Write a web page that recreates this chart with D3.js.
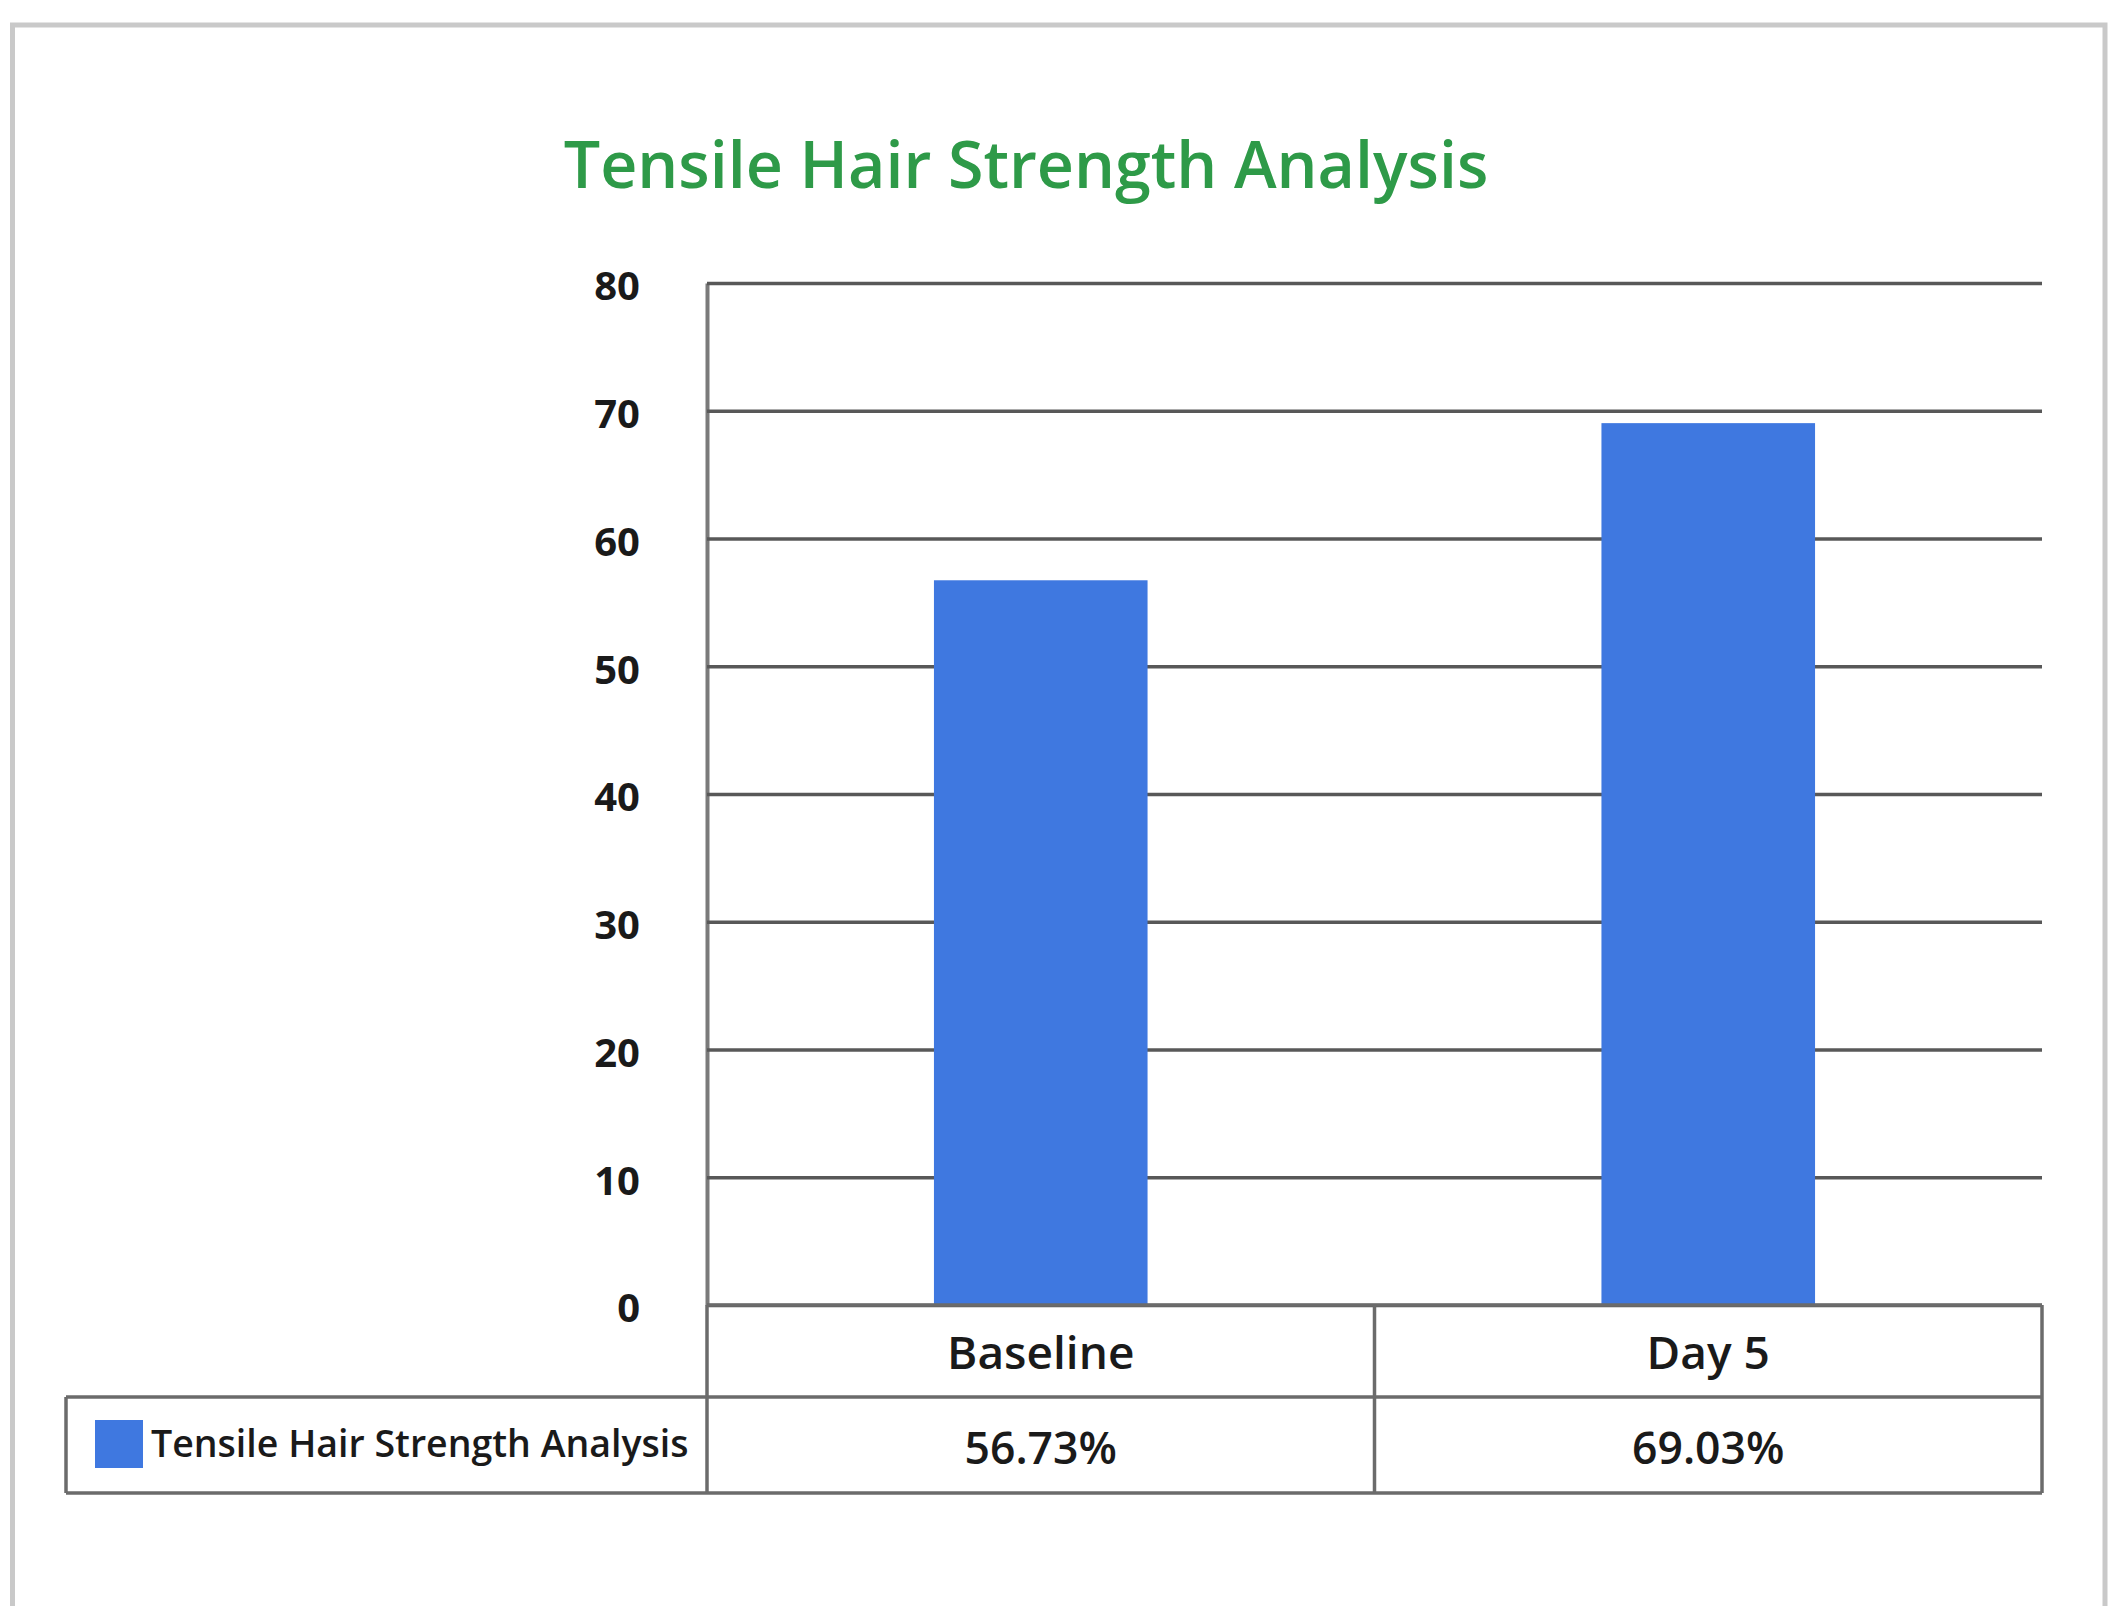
<!DOCTYPE html>
<html>
<head>
<meta charset="utf-8">
<title>Tensile Hair Strength Analysis</title>
<script src="https://cdn.jsdelivr.net/npm/d3@7"></script>
<style>
  html, body { margin: 0; padding: 0; background: #ffffff; }
  svg { display: block; }
  text { font-family: "Open Sans", "Noto Sans", sans-serif; }
</style>
</head>
<body>
<svg id="chart" width="2117" height="1606"></svg>
<script>
// Chart data
const chartTitle = "Tensile Hair Strength Analysis";
const seriesName = "Tensile Hair Strength Analysis";
const categories = ["Baseline", "Day 5"];
const values = [56.73, 69.03];
const yTicks = [0, 10, 20, 30, 40, 50, 60, 70, 80];

const W = 2117, H = 1606;
const plot = { left: 707, right: 2042, top: 283, bottom: 1305 };
const table = { left: 66, rowMid: 1397, bottom: 1493 };
const barColor = "#3f78e0";
const lineColor = "#6b6b6b";
const gridColor = "#585858";

const svg = d3.select("#chart");

// outer frame
svg.append("rect")
  .attr("x", 12.5).attr("y", 25)
  .attr("width", 2105 - 12.5).attr("height", H + 20)
  .attr("fill", "none")
  .attr("stroke", "#c9c9c9")
  .attr("stroke-width", 5);

// title
svg.append("text")
  .attr("x", 1026).attr("y", 188)
  .attr("text-anchor", "middle")
  .attr("font-size", 64.5)
  .attr("font-weight", 600)
  .attr("fill", "#2e9a48")
  .text(chartTitle);

// scales
const x = d3.scaleBand()
  .domain(categories)
  .range([plot.left, plot.right])
  .padding(0);

const y = d3.scaleLinear()
  .domain([0, 80])
  .range([plot.bottom, plot.top]);

// y axis with full-width gridlines
const yAxis = d3.axisLeft(y)
  .tickValues(yTicks)
  .tickFormat(d3.format("d"))
  .tickSizeInner(-(plot.right - plot.left))
  .tickSizeOuter(0)
  .tickPadding(67);

const gy = svg.append("g")
  .attr("transform", `translate(${plot.left},0)`)
  .call(yAxis);

gy.select(".domain")
  .attr("stroke", "#7a7a7a")
  .attr("stroke-width", 4);
gy.selectAll(".tick line")
  .attr("stroke", gridColor)
  .attr("stroke-width", 3.5);
gy.selectAll(".tick text")
  .attr("font-size", 40)
  .attr("font-weight", 700)
  .attr("fill", "#1a1a1a")
  .attr("font-family", "'Open Sans', 'Noto Sans', sans-serif")
  .attr("dy", "0.42em");

// bars
const barW = x.bandwidth() * 0.32;
svg.append("g")
  .selectAll("rect")
  .data(values)
  .join("rect")
  .attr("x", (d, i) => x(categories[i]) + x.bandwidth() / 2 - barW / 2)
  .attr("y", d => y(d))
  .attr("width", barW)
  .attr("height", d => y(0) - y(d))
  .attr("fill", barColor);

// data table under the plot
const tg = svg.append("g")
  .attr("fill", "none")
  .attr("stroke", lineColor)
  .attr("stroke-width", 3.5);

// horizontal rules
tg.append("line")
  .attr("x1", plot.left).attr("x2", plot.right)
  .attr("y1", plot.bottom).attr("y2", plot.bottom);
tg.append("line")
  .attr("x1", table.left).attr("x2", plot.right)
  .attr("y1", table.rowMid).attr("y2", table.rowMid);
tg.append("line")
  .attr("x1", table.left).attr("x2", plot.right)
  .attr("y1", table.bottom).attr("y2", table.bottom);

// vertical rules
tg.append("line")
  .attr("x1", table.left).attr("x2", table.left)
  .attr("y1", table.rowMid).attr("y2", table.bottom);
const colEdges = [plot.left].concat(categories.map(c => x(c) + x.bandwidth()));
tg.selectAll("line.col")
  .data(colEdges)
  .join("line")
  .attr("class", "col")
  .attr("x1", d => d).attr("x2", d => d)
  .attr("y1", plot.bottom).attr("y2", table.bottom);

// category row
svg.append("g")
  .selectAll("text")
  .data(categories)
  .join("text")
  .attr("x", d => x(d) + x.bandwidth() / 2)
  .attr("y", 1369)
  .attr("text-anchor", "middle")
  .attr("font-size", 46)
  .attr("font-weight", 600)
  .attr("fill", "#1a1a1a")
  .text(d => d);

// value row
const fmt = d => d3.format(".2f")(d) + "%";
svg.append("g")
  .selectAll("text")
  .data(values)
  .join("text")
  .attr("x", (d, i) => x(categories[i]) + x.bandwidth() / 2)
  .attr("y", 1464)
  .attr("text-anchor", "middle")
  .attr("font-size", 44.5)
  .attr("font-weight", 600)
  .attr("fill", "#1a1a1a")
  .text(fmt);

// legend key in the table
svg.append("rect")
  .attr("x", 95).attr("y", 1420)
  .attr("width", 48).attr("height", 48)
  .attr("fill", barColor);
svg.append("text")
  .attr("x", 151).attr("y", 1457)
  .attr("font-size", 37.5)
  .attr("font-weight", 600)
  .attr("fill", "#1a1a1a")
  .text(seriesName);
</script>
</body>
</html>
